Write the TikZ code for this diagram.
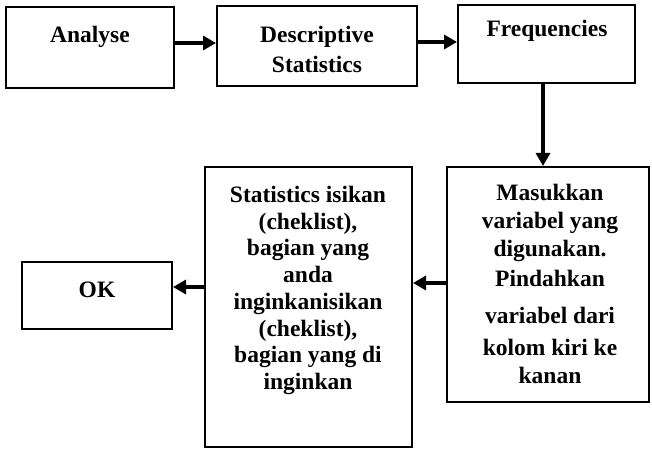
\documentclass[tikz,border=0pt]{standalone}
\usepackage{fontspec}
\setmainfont{Liberation Serif}
\usetikzlibrary{arrows.meta}
\tikzset{
  box/.style={draw, line width=2pt, inner sep=0pt},
  lbl/.style={font=\bfseries\fontsize{23.5}{28}\selectfont, inner sep=0pt, align=center},
  arr/.style={line width=3.2pt, -{Triangle[length=13pt,width=14pt]}}
}
\begin{document}
\begin{tikzpicture}[x=1pt,y=-1pt]
\useasboundingbox (0,0) rectangle (652,449);
% boxes
\node[box, minimum width=168pt, minimum height=81pt] (an) at (90,47.5) {};
\node[box, minimum width=200pt, minimum height=80pt] (ds) at (317,46) {};
\node[box, minimum width=177pt, minimum height=78pt] (fr) at (546.5,44) {};
\node[box, minimum width=202pt, minimum height=235pt] (ms) at (548,284.5) {};
\node[box, minimum width=207pt, minimum height=280pt] (st) at (308.5,307) {};
\node[box, minimum width=150pt, minimum height=67pt] (ok) at (97,295.5) {};
% texts
\node[lbl, anchor=base] (tan) at (90,43) {Analyse};
\node[lbl, anchor=north, font=\bfseries\fontsize{23.5}{30}\selectfont] (tds) at (317,26) {Descriptive\\Statistics};
\node[lbl, anchor=base] (tfr) at (547,37) {Frequencies};
\node[lbl, anchor=base] (tok) at (97,297) {OK};
\node[lbl, anchor=north] (tms) at (550,184) {Masukkan\\variabel yang\\digunakan.\\[2pt]Pindahkan\\[9pt]variabel dari\\[4pt]kolom kiri ke\\kanan};
\node[lbl, anchor=north, font=\bfseries\fontsize{23.5}{26.7}\selectfont] (tst) at (308,186) {Statistics isikan\\(cheklist),\\bagian yang\\anda\\inginkanisikan\\(cheklist),\\bagian yang di\\inginkan};
% arrows
\draw[arr] ([yshift=4.5pt]an.east) -- ([yshift=4.5pt]an.east -| ds.west);
\draw[arr] ([yshift=4pt]ds.east) -- ([yshift=4pt]ds.east -| fr.west);
\draw[arr] ([xshift=-3.5pt]fr.south) -- ([xshift=-3.5pt]fr.south |- ms.north);
\draw[arr] ([yshift=1.5pt]ms.west) -- ([yshift=1.5pt]ms.west -| st.east);
\draw[arr] ([yshift=20pt]st.west) -- ([yshift=20pt]st.west -| ok.east);
\end{tikzpicture}
\end{document}
